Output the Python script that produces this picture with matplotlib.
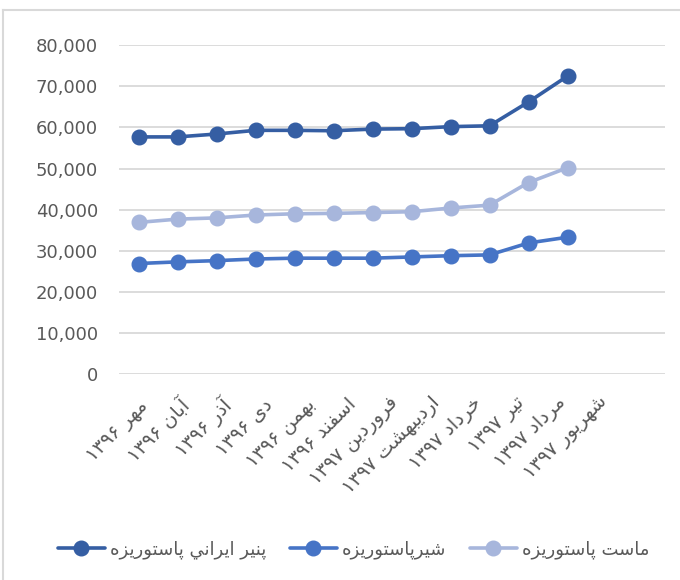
import numpy as np
import matplotlib
matplotlib.use("Agg")
import matplotlib.pyplot as plt
from matplotlib.lines import Line2D
from matplotlib.transforms import ScaledTranslation

# months (Persian calendar, 1396-1397)
months = ["مهر ۱۳۹۶", "آبان ۱۳۹۶", "آذر ۱۳۹۶", "دی ۱۳۹۶", "بهمن ۱۳۹۶", "اسفند ۱۳۹۶",
          "فروردین ۱۳۹۷", "اردیبهشت ۱۳۹۷", "خرداد ۱۳۹۷", "تیر ۱۳۹۷", "مرداد ۱۳۹۷", "شهریور ۱۳۹۷"]

cheese = [57700, 57700, 58400, 59300, 59300, 59200, 59600, 59700, 60200, 60400, 66200, 72500]
milk = [26900, 27300, 27600, 28000, 28200, 28200, 28200, 28500, 28800, 29000, 31900, 33300]
yogurt = [36900, 37700, 38000, 38700, 39000, 39100, 39300, 39500, 40400, 41100, 46600, 50200]

series_names = ["پنیر ايراني پاستوریزه", "شیرپاستوریزه", "ماست پاستوریزه"]
colors = ["#355EA3", "#4674C6", "#A7B6DC"]

# matplotlib has no arabic shaping -> map letters to presentation forms by hand
# (isolated, final, initial, medial); None = letter does not join to the next one
FORMS = {
    "ا": ("\uFE8D", "\uFE8E", None, None),
    "آ": ("\uFE81", "\uFE82", None, None),
    "ب": ("\uFE8F", "\uFE90", "\uFE91", "\uFE92"),
    "پ": ("\uFB56", "\uFB57", "\uFB58", "\uFB59"),
    "ت": ("\uFE95", "\uFE96", "\uFE97", "\uFE98"),
    "خ": ("\uFEA5", "\uFEA6", "\uFEA7", "\uFEA8"),
    "د": ("\uFEA9", "\uFEAA", None, None),
    "ذ": ("\uFEAB", "\uFEAC", None, None),
    "ر": ("\uFEAD", "\uFEAE", None, None),
    "ز": ("\uFEAF", "\uFEB0", None, None),
    "س": ("\uFEB1", "\uFEB2", "\uFEB3", "\uFEB4"),
    "ش": ("\uFEB5", "\uFEB6", "\uFEB7", "\uFEB8"),
    "ف": ("\uFED1", "\uFED2", "\uFED3", "\uFED4"),
    "م": ("\uFEE1", "\uFEE2", "\uFEE3", "\uFEE4"),
    "ن": ("\uFEE5", "\uFEE6", "\uFEE7", "\uFEE8"),
    "ه": ("\uFEE9", "\uFEEA", "\uFEEB", "\uFEEC"),
    "و": ("\uFEED", "\uFEEE", None, None),
    "ي": ("\uFEF1", "\uFEF2", "\uFEF3", "\uFEF4"),
    "ی": ("\uFBFC", "\uFBFD", "\uFBFE", "\uFBFF"),
}
DIGITS = "۰۱۲۳۴۵۶۷۸۹0123456789"


def rtl(text):
    shaped = []
    for i, c in enumerate(text):
        if c not in FORMS:
            shaped.append(c)
            continue
        prev = text[i - 1] if i > 0 else ""
        nxt = text[i + 1] if i + 1 < len(text) else ""
        jp = prev in FORMS and FORMS[prev][2] is not None
        jn = nxt in FORMS and FORMS[c][2] is not None
        iso, fin, ini, med = FORMS[c]
        if jp and jn:
            shaped.append(med)
        elif jp:
            shaped.append(fin)
        elif jn:
            shaped.append(ini)
        else:
            shaped.append(iso)
    # visual order: reverse, but keep digit runs left-to-right
    tokens = []
    for ch, orig in zip(shaped, text):
        if orig in DIGITS and tokens and tokens[-1][0] in DIGITS:
            tokens[-1] = (tokens[-1][0], tokens[-1][1] + ch)
        else:
            tokens.append((orig, ch))
    return "".join(t[1] for t in reversed(tokens))


plt.rcParams["font.family"] = ["DejaVu Sans"]

fig = plt.figure(figsize=(6.8, 5.8), dpi=100)
ax = fig.add_axes([0.175, 0.355, 0.803, 0.567])

x = np.arange(len(months))
for vals, name, col in zip([cheese, milk, yogurt], series_names, colors):
    ax.plot(x, vals, color=col, lw=2.6, marker="o", markersize=10.5,
            label=rtl(name), solid_capstyle="round")

ax.set_xlim(-0.5, 13.5)
ax.set_ylim(0, 80000)
ax.set_yticks(np.arange(0, 80001, 10000))
ax.yaxis.set_major_formatter(matplotlib.ticker.FuncFormatter(lambda v, p: f"{int(v):,}"))
ax.grid(axis="y", color="#d9d9d9", lw=1.3)
ax.set_axisbelow(True)
for s in ax.spines.values():
    s.set_visible(False)

ax.set_xticks(x)
ax.set_xticklabels([rtl(m) for m in months], rotation=45, ha="right", va="center",
                   rotation_mode="anchor")
ax.tick_params(axis="x", length=0, pad=15, labelsize=14, colors="#595959")
ax.tick_params(axis="y", length=0, pad=15, labelsize=13, colors="#595959")

# labels in the reference drift a little to the right along the axis
for i, lab in enumerate(ax.get_xticklabels()):
    dx = (6 + 2.8 * i) / 100
    dy = -(8 - 0.4 * i) / 100
    lab.set_transform(lab.get_transform() + ScaledTranslation(dx, dy, fig.dpi_scale_trans))

fig.legend(loc="center", bbox_to_anchor=(0.52, 0.053), ncol=3, frameon=False,
           handlelength=2.6, columnspacing=1.3, handletextpad=0.3,
           prop={"size": 13}, labelcolor="#595959")

# chart frame edges visible in the reference
fig.add_artist(Line2D([0.005, 0.005], [0, 0.983], color="#d9d9d9", lw=1.5))
fig.add_artist(Line2D([0.005, 1.0], [0.983, 0.983], color="#d9d9d9", lw=1.5))

fig.savefig("out.png", dpi=100)
